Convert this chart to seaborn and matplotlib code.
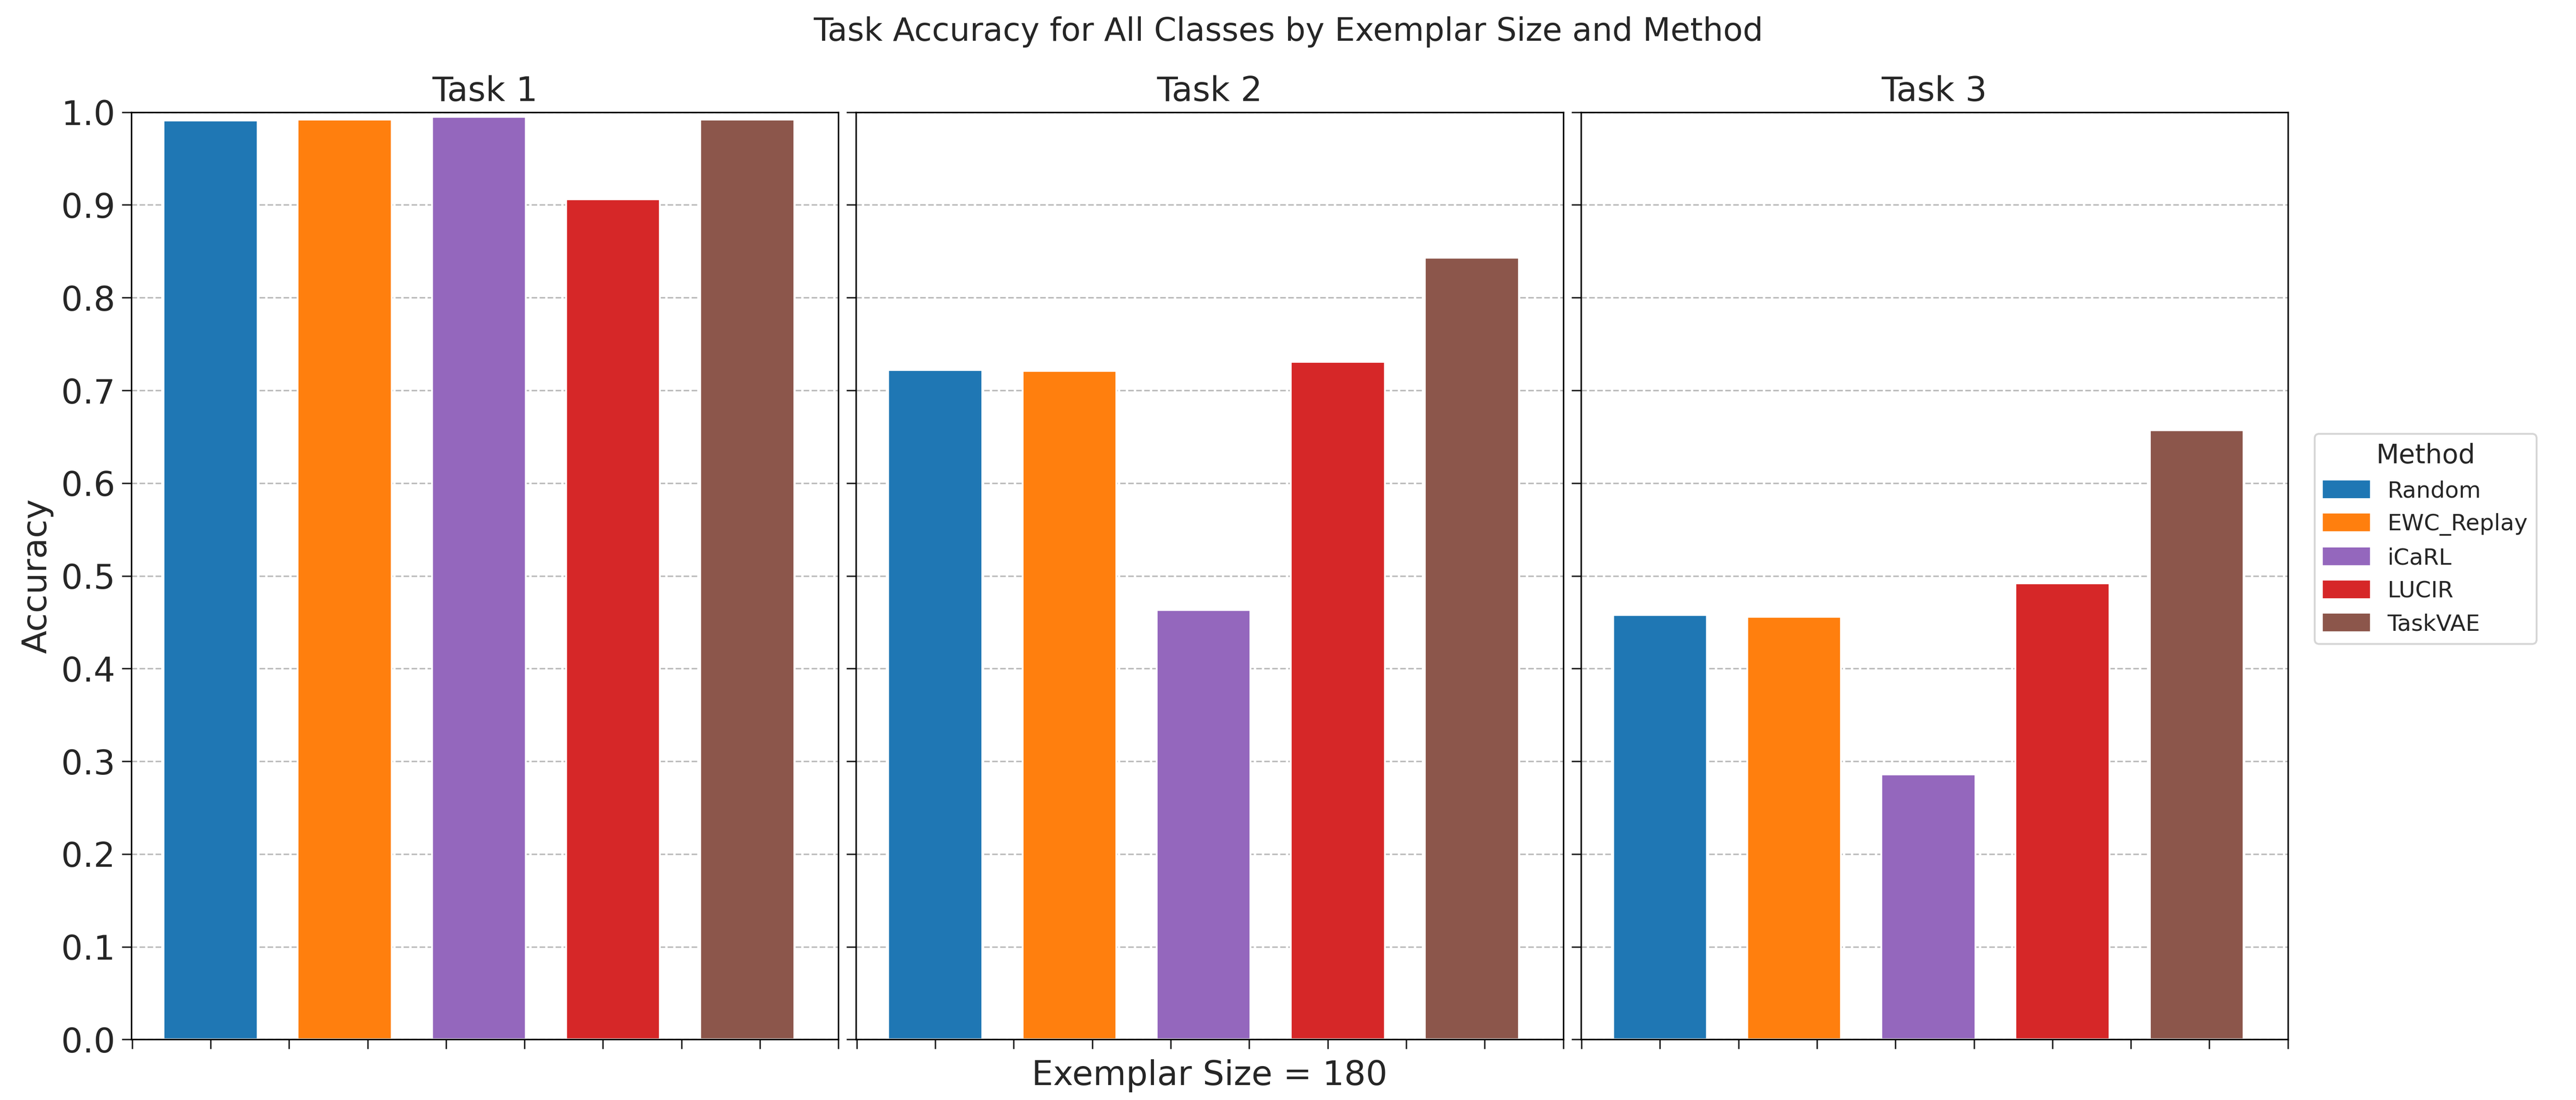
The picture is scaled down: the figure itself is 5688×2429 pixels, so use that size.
import numpy as np
import pandas as pd
import matplotlib.pyplot as plt
import seaborn as sns

methods = ["Random", "EWC_Replay", "iCaRL", "LUCIR", "TaskVAE"]
tasks = ["Task 1", "Task 2", "Task 3"]
task1_acc = [0.991, 0.992, 0.995, 0.906, 0.992]
task2_acc = [0.722, 0.721, 0.463, 0.731, 0.843]
task3_acc = [0.458, 0.456, 0.286, 0.492, 0.657]

tab = sns.color_palette("tab10")
palette = dict(zip(methods, [tab[0], tab[1], tab[4], tab[3], tab[5]]))

sns.set_style("white")
plt.rcParams["font.family"] = ["DejaVu Sans"]

fig, axes = plt.subplots(1, 3, figsize=(18.963, 8.097), dpi=300, sharey=True)
fig.subplots_adjust(left=0.051, right=0.888, top=0.898, bottom=0.055, wspace=0.025)

for ax, name, vals in zip(axes, tasks, [task1_acc, task2_acc, task3_acc]):
    df = pd.DataFrame({"Method": methods, "Accuracy": vals})
    sns.barplot(data=df, x="Method", y="Accuracy", hue="Method", palette=palette,
                width=0.7, ax=ax, legend=False, saturation=1)
    ax.set_title(name, fontsize=18)
    ax.set_xlim(-0.59, 4.63)
    ax.set_xticks(np.arange(-1, 9) * 0.585)
    ax.set_xticklabels([])
    ax.tick_params(axis="x", length=5, bottom=True)
    ax.tick_params(axis="y", labelsize=18, length=5, left=True)
    ax.set_ylim(0, 1.0)
    ax.set_yticks(np.arange(0, 1.01, 0.1))
    ax.yaxis.grid(True, linestyle="--", color="#bbbbbb", linewidth=0.8)
    ax.set_axisbelow(True)
    ax.set_xlabel("")
    ax.set_ylabel("")
    for s in ax.spines.values():
        s.set_color("black")
        s.set_linewidth(0.8)

axes[0].set_ylabel("Accuracy", fontsize=18)
axes[1].set_xlabel("Exemplar Size = 180", fontsize=18, labelpad=2)
fig.suptitle("Task Accuracy for All Classes by Exemplar Size and Method", fontsize=17, y=0.985)

handles = [plt.Rectangle((0, 0), 1, 1, color=palette[m]) for m in methods]
fig.legend(handles, methods, title="Method", loc="center left", bbox_to_anchor=(0.894, 0.51),
           fontsize=12, title_fontsize=14)

fig.savefig("out.png", dpi=300)
